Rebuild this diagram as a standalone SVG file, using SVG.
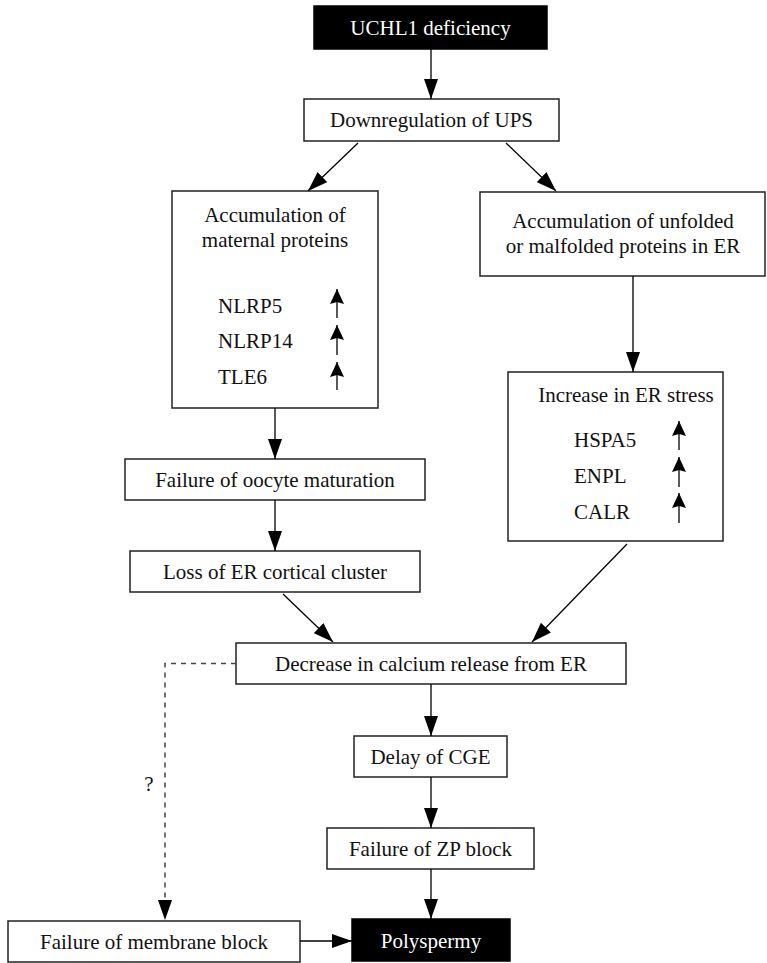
<svg xmlns="http://www.w3.org/2000/svg" width="767" height="963" viewBox="0 0 767 963">
<style>
  .box{fill:#fff;stroke:#222;stroke-width:1.5}
  .dark{fill:#000;stroke:#000;stroke-width:1.5}
  .t{font-family:"Liberation Serif","Times New Roman",serif;font-size:21px;fill:#111}
  .tw{font-family:"Liberation Serif","Times New Roman",serif;font-size:21px;fill:#fff}
  .c{text-anchor:middle}
  .ln{stroke:#000;stroke-width:1.3;fill:none}
  .dash{stroke:#444;stroke-width:1.5;fill:none;stroke-dasharray:5 5}
</style>
<defs>
  <marker id="ah" markerUnits="userSpaceOnUse" markerWidth="20" markerHeight="14" viewBox="0 0 20 14" refX="20" refY="7" orient="auto">
    <path d="M0,0 L20,7 L0,14 z" fill="#000"/>
  </marker>
  <marker id="up" markerUnits="userSpaceOnUse" markerWidth="15" markerHeight="14" viewBox="0 0 15 14" refX="15" refY="7" orient="auto">
    <path d="M0,0 L15,7 L0,14 L2,7 z" fill="#000"/>
  </marker>
</defs>

<g id="n-uchl1">
  <rect class="dark" x="314" y="6" width="233" height="43"/>
  <text class="tw c" x="430.5" y="35">UCHL1 deficiency</text>
</g>
<g id="n-downreg">
  <rect class="box" x="304" y="99" width="255" height="42"/>
  <text class="t c" x="431.5" y="127">Downregulation of UPS</text>
</g>
<g id="n-maternal">
  <rect class="box" x="172" y="191" width="206" height="217"/>
  <text class="t c" x="275" y="222">Accumulation of</text>
  <text class="t c" x="275" y="247">maternal proteins</text>
  <text class="t" x="218" y="313">NLRP5</text>
  <text class="t" x="218" y="348">NLRP14</text>
  <text class="t" x="218" y="384">TLE6</text>
  <line class="ln" x1="337" y1="318" x2="337" y2="289" marker-end="url(#up)"/>
  <line class="ln" x1="337" y1="355" x2="337" y2="325" marker-end="url(#up)"/>
  <line class="ln" x1="337" y1="390" x2="337" y2="362" marker-end="url(#up)"/>
</g>
<g id="n-unfolded">
  <rect class="box" x="480" y="192" width="285" height="84"/>
  <text class="t c" x="623" y="228">Accumulation of unfolded</text>
  <text class="t c" x="623" y="253">or malfolded proteins in ER</text>
</g>
<g id="n-erstress">
  <rect class="box" x="508" y="372" width="215" height="169"/>
  <text class="t c" x="626" y="402">Increase in ER stress</text>
  <text class="t" x="574" y="447">HSPA5</text>
  <text class="t" x="574" y="483">ENPL</text>
  <text class="t" x="574" y="519">CALR</text>
  <line class="ln" x1="679" y1="450" x2="679" y2="421" marker-end="url(#up)"/>
  <line class="ln" x1="679" y1="487" x2="679" y2="457" marker-end="url(#up)"/>
  <line class="ln" x1="679" y1="523" x2="679" y2="493" marker-end="url(#up)"/>
</g>
<g id="n-oocyte">
  <rect class="box" x="125" y="459" width="300" height="41"/>
  <text class="t c" x="275" y="486.5">Failure of oocyte maturation</text>
</g>
<g id="n-loss">
  <rect class="box" x="130" y="551" width="290" height="41"/>
  <text class="t c" x="275" y="578.5">Loss of ER cortical cluster</text>
</g>
<g id="n-decrease">
  <rect class="box" x="236" y="643" width="390" height="41"/>
  <text class="t c" x="431" y="670.5">Decrease in calcium release from ER</text>
</g>
<g id="n-cge">
  <rect class="box" x="354" y="736" width="153" height="41"/>
  <text class="t c" x="430.5" y="763.5">Delay of CGE</text>
</g>
<g id="n-zp">
  <rect class="box" x="327" y="828" width="207" height="41"/>
  <text class="t c" x="430.5" y="855.5">Failure of ZP block</text>
</g>
<g id="n-membrane">
  <rect class="box" x="8" y="921" width="292" height="41"/>
  <text class="t c" x="154" y="948.5">Failure of membrane block</text>
</g>
<g id="n-polyspermy">
  <rect class="dark" x="352" y="919" width="158" height="42"/>
  <text class="tw c" x="431" y="947.5">Polyspermy</text>
</g>

<g id="connectors">
  <line class="ln" x1="431" y1="49" x2="431" y2="99" marker-end="url(#ah)"/>
  <line class="ln" x1="358" y1="143" x2="308" y2="191" marker-end="url(#ah)"/>
  <line class="ln" x1="506" y1="143" x2="556" y2="191" marker-end="url(#ah)"/>
  <line class="ln" x1="633" y1="276" x2="633" y2="372" marker-end="url(#ah)"/>
  <line class="ln" x1="275" y1="408" x2="275" y2="459" marker-end="url(#ah)"/>
  <line class="ln" x1="275" y1="500" x2="275" y2="551" marker-end="url(#ah)"/>
  <line class="ln" x1="283" y1="594" x2="333" y2="642" marker-end="url(#ah)"/>
  <line class="ln" x1="627" y1="544" x2="532" y2="642" marker-end="url(#ah)"/>
  <line class="ln" x1="431" y1="684" x2="431" y2="736" marker-end="url(#ah)"/>
  <line class="ln" x1="431" y1="777" x2="431" y2="828" marker-end="url(#ah)"/>
  <line class="ln" x1="431" y1="869" x2="431" y2="919" marker-end="url(#ah)"/>
  <line class="ln" x1="300" y1="941" x2="352" y2="941" marker-end="url(#ah)"/>
  <path class="dash" d="M236,663.5 H165 V904"/>
  <line class="ln" x1="165" y1="904" x2="165" y2="920" marker-end="url(#ah)" stroke-opacity="0"/>
  <text class="t c" x="149" y="791">?</text>
</g>
</svg>
